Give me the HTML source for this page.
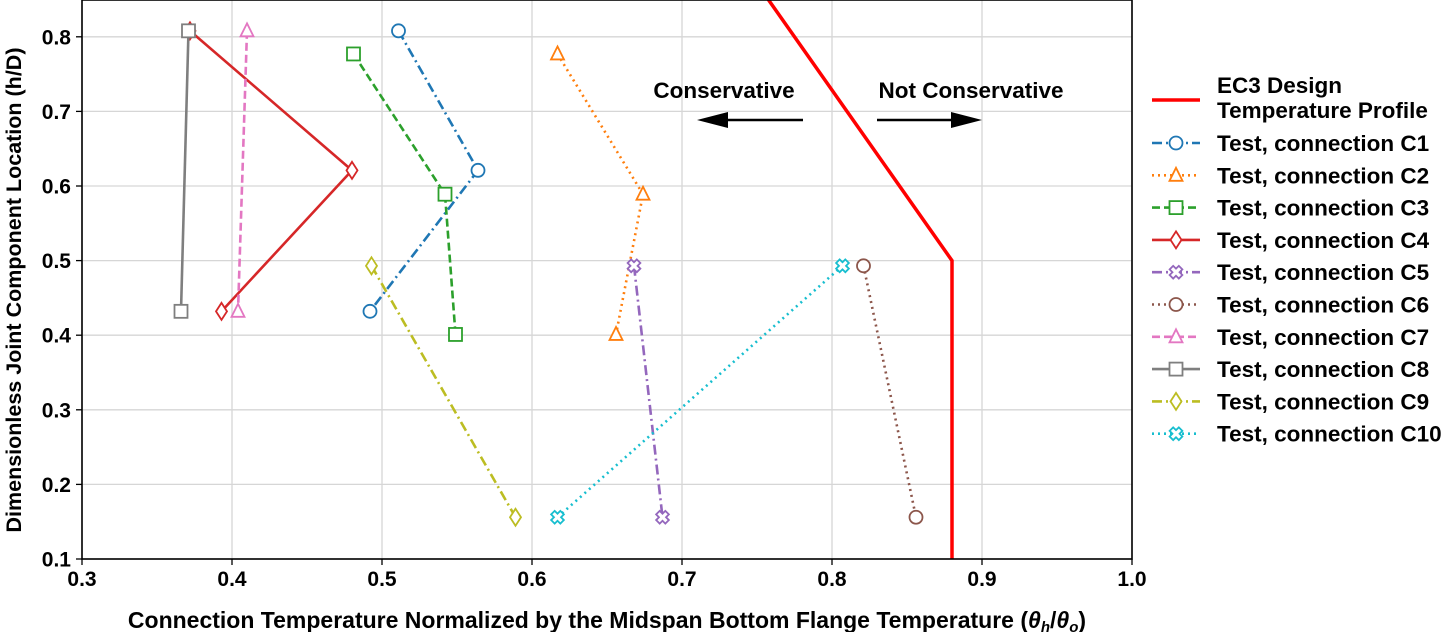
<!DOCTYPE html>
<html><head><meta charset="utf-8"><style>
body{margin:0;background:#fff;}
svg{display:block;font-family:"Liberation Sans",Arial,sans-serif;font-weight:bold;}
</style></head><body>
<svg id="chart" width="1445" height="632" viewBox="0 0 1445 632">
<defs><clipPath id="plotclip"><rect x="82" y="0" width="1050" height="559"/></clipPath></defs>
<g id="grid"></g>
<g id="series" clip-path="url(#plotclip)"></g>
<rect x="82" y="0" width="1050" height="559" fill="none" stroke="#000" stroke-width="1.6"/>
<g id="ticks"></g>
<g>
<text x="724" y="98" font-size="22.5" text-anchor="middle">Conservative</text>
<line x1="803" y1="120" x2="725" y2="120" stroke="#000" stroke-width="2.5"/>
<polygon points="697,120 728,112 728,128" fill="#000"/>
<text x="971" y="98" font-size="22.5" text-anchor="middle">Not Conservative</text>
<line x1="877" y1="120" x2="955" y2="120" stroke="#000" stroke-width="2.5"/>
<polygon points="982,120 951,112 951,128" fill="#000"/>
</g>
<text x="607" y="628" font-size="23" text-anchor="middle">Connection Temperature Normalized by the Midspan Bottom Flange Temperature (<tspan font-style="italic">θ</tspan><tspan font-style="italic" font-size="15" dy="4">h</tspan><tspan dy="-4">/</tspan><tspan font-style="italic">θ</tspan><tspan font-style="italic" font-size="15" dy="4">o</tspan><tspan dy="-4">)</tspan></text>
<text transform="translate(21,290) rotate(-90)" font-size="21.5" text-anchor="middle">Dimensionless Joint Component Location (h/D)</text>
<g id="legend"></g>
</svg>
<script>
const xTicks=[0.3,0.4,0.5,0.6,0.7,0.8,0.9,1.0];
const yTicks=[0.1,0.2,0.3,0.4,0.5,0.6,0.7,0.8];
const ec3X=[0.88,0.88,0.74];
const ec3Y=[0.1,0.5,0.9];
const c1X=[0.511,0.564,0.492], c1Y=[0.808,0.621,0.432];
const c2X=[0.617,0.674,0.656], c2Y=[0.777,0.589,0.401];
const c3X=[0.481,0.542,0.549], c3Y=[0.777,0.589,0.401];
const c4X=[0.372,0.480,0.393], c4Y=[0.808,0.621,0.432];
const c5X=[0.668,0.687], c5Y=[0.493,0.156];
const c6X=[0.821,0.856], c6Y=[0.493,0.156];
const c7X=[0.410,0.404], c7Y=[0.808,0.432];
const c8X=[0.371,0.366], c8Y=[0.808,0.432];
const c9X=[0.493,0.589], c9Y=[0.493,0.156];
const c10X=[0.617,0.807], c10Y=[0.156,0.493];
const seriesNames=["C1","C2","C3","C4","C5","C6","C7","C8","C9","C10"];

const NS="http://www.w3.org/2000/svg";
const sx=v=>82+(v-0.3)*1500;
const sy=v=>559-(v-0.1)*746;
function mk(tag,attrs,parent){const e=document.createElementNS(NS,tag);for(const k in attrs)e.setAttribute(k,attrs[k]);parent.appendChild(e);return e;}
const grid=document.getElementById('grid'),ticks=document.getElementById('ticks'),ser=document.getElementById('series'),leg=document.getElementById('legend');
xTicks.forEach(t=>{
 let l=mk('line',{x1:sx(t),x2:sx(t),y1:0,y2:559,stroke:'#d6d6d6','stroke-width':1.3},grid);
 
 
 let k=mk('line',{x1:sx(t),x2:sx(t),y1:559,y2:565,stroke:'#000','stroke-width':1.3},ticks);
 
 
 let tx=mk('text',{x:sx(t),y:586,'font-size':21,'text-anchor':'middle'},ticks);tx.textContent=t.toFixed(1);
 
 
});
yTicks.forEach(t=>{
 let l=mk('line',{x1:82,x2:1132,y1:sy(t),y2:sy(t),stroke:'#d6d6d6','stroke-width':1.3},grid);
 
 
 let k=mk('line',{x1:76,x2:82,y1:sy(t),y2:sy(t),stroke:'#000','stroke-width':1.3},ticks);
 
 
 let tx=mk('text',{x:71,y:sy(t)+7.5,'font-size':21,'text-anchor':'end'},ticks);tx.textContent=t.toFixed(1);
 
 
});
function marker(type,x,y,color,parent){
 let e;const r=6.5;
 if(type==='o')e=mk('circle',{cx:x,cy:y,r:r},parent);
 else if(type==='^')e=mk('polygon',{points:`${x},${y-r-1} ${x+r},${y+r-1} ${x-r},${y+r-1}`},parent);
 else if(type==='s')e=mk('rect',{x:x-r,y:y-r,width:2*r,height:2*r},parent);
 else if(type==='d')e=mk('polygon',{points:`${x},${y-r-2} ${x+r-1},${y} ${x},${y+r+2} ${x-r+1},${y}`},parent);
 else {const a=2.5,b=6.5;e=mk('path',{d:`M${x-a},${y-b}L${x+a},${y-b}L${x+a},${y-a}L${x+b},${y-a}L${x+b},${y+a}L${x+a},${y+a}L${x+a},${y+b}L${x-a},${y+b}L${x-a},${y+a}L${x-b},${y+a}L${x-b},${y-a}L${x-a},${y-a}Z`,transform:`rotate(45 ${x} ${y})`},parent);}
 e.setAttribute('fill','#fff');e.setAttribute('stroke',color);e.setAttribute('stroke-width',1.8);
 
 
}
const styles=[
 ['#1f77b4','o','10,4,2,4'],['#ff7f0e','^','2,4'],['#2ca02c','s','8,4'],['#d62728','d',''],
 ['#9467bd','x','10,4,2,4'],['#8c564b','o','2,4'],['#e377c2','^','8,4'],['#7f7f7f','s',''],
 ['#bcbd22','d','10,4,2,4'],['#17becf','x','2,4']];
const data=[[c1X,c1Y],[c2X,c2Y],[c3X,c3Y],[c4X,c4Y],[c5X,c5Y],[c6X,c6Y],[c7X,c7Y],[c8X,c8Y],[c9X,c9Y],[c10X,c10Y]];
let ec=mk('polyline',{points:ec3X.map((v,i)=>sx(v)+','+sy(ec3Y[i])).join(' '),fill:'none',stroke:'#ff0000','stroke-width':3.5},ser);


data.forEach((d,i)=>{
 const [c,m,da]=styles[i];
 const g=mk('g',{},ser);
 
 
 const pl=mk('polyline',{points:d[0].map((v,j)=>sx(v)+','+sy(d[1][j])).join(' '),fill:'none',stroke:c,'stroke-width':2.6,'stroke-dasharray':da},g);
 
 
 d[0].forEach((v,j)=>marker(m,sx(v),sy(d[1][j]),c,g));
});
// legend
let ll=mk('line',{x1:1152,x2:1200,y1:100,y2:100,stroke:'#ff0000','stroke-width':3.5},leg);


let lt=mk('text',{x:1217,y:93,'font-size':22.5},leg);lt.textContent='EC3 Design';


let lt2=mk('text',{x:1217,y:118,'font-size':22.5},leg);lt2.textContent='Temperature Profile';


styles.forEach((s,i)=>{
 const y=143+i*32.3;
 const g=mk('g',{},leg);
 
 
 const l=mk('line',{x1:1152,x2:1200,y1:y,y2:y,stroke:s[0],'stroke-width':2.6,'stroke-dasharray':s[2]},g);
 
 
 marker(s[1],1176,y,s[0],g);
 const t=mk('text',{x:1217,y:y+8,'font-size':22.5},g);t.textContent='Test, connection '+seriesNames[i];
 
 
});
</script>
</body></html>
